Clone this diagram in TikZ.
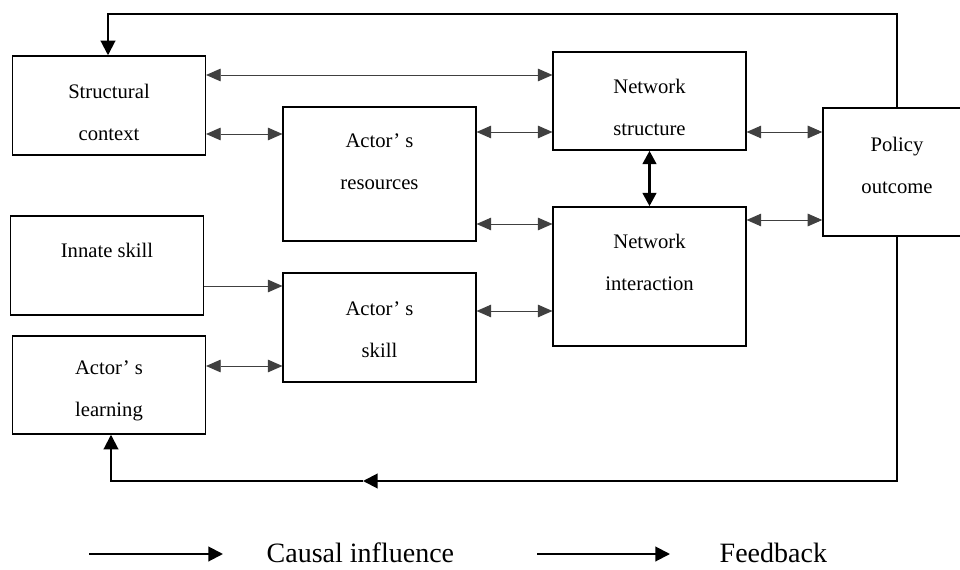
\documentclass[tikz,border=0pt]{standalone}
\usepackage{fontspec}
\setmainfont{Liberation Serif}
\usepackage{tikz}
\usetikzlibrary{arrows.meta,positioning}
\tikzset{
	x=0.75pt, y=-0.75pt,
	box/.style={draw, line width=1.1pt, inner sep=0pt, minimum width=144.5pt},
	txt/.style={align=center, font=\fontsize{15.5}{31.5}\selectfont},
	link/.style={<->, draw=black!75, line width=0.7pt,
		>={Triangle[length=11pt, width=9.5pt]}},
	oneway/.style={->, draw=black!75, line width=0.7pt,
		>={Triangle[length=11pt, width=9.5pt]}},
	strong/.style={<->, line width=2.3pt,
		>={Triangle[length=10pt, width=10pt]}},
	feedback/.style={->, line width=1.5pt,
		>={Triangle[length=11pt, width=11pt]}},
	legend/.style={font=\fontsize{21}{25}\selectfont, anchor=west},
}

\begin{document}
\begin{tikzpicture}
	\clip (0,0) rectangle (960,570);

	% boxes
	\node[box, minimum height=74.25pt] (sc) at (109,105.5) {};
	\node[box, minimum height=100.5pt] (res) at (379.5,174) {};
	\node[box, minimum height=73.5pt] (ns) at (649.5,101) {};
	\node[box, minimum height=104.25pt] (ni) at (649.5,276.5) {};
	\node[box, minimum width=111pt, minimum height=96pt] (po) at (897,172) {};
	\node[box, minimum height=74.25pt] (is) at (107,265.5) {};
	\node[box, minimum height=81.75pt] (sk) at (379.5,327.5) {};
	\node[box, minimum height=73.5pt] (le) at (109,385) {};

	% texts
	\node[txt] (sc-t) at (109,112) {Structural\\context};
	\node[txt] (res-t) at (379.5,162) {Actor' s\\resources};
	\node[txt] (ns-t) at (649.5,107) {Network\\structure};
	\node[txt] (ni-t) at (649.5,262) {Network\\interaction};
	\node[txt] (po-t) at (897,165) {Policy\\outcome};
	\node[txt] (is-t) at (107,250) {Innate skill};
	\node[txt] (sk-t) at (379.5,330) {Actor' s\\skill};
	\node[txt] (le-t) at (109,391) {Actor' s\\learning};

	% causal influence
	\draw[link] (sc.east |- 0,75) -- (ns.west |- 0,75);
	\draw[link] (sc.east |- 0,134) -- (res.west |- 0,134);
	\draw[link] (res.east |- 0,132) -- (ns.west |- 0,132);
	\draw[link] (res.east |- 0,224) -- (ni.west |- 0,224);
	\draw[link] (ns.east |- 0,132) -- (po.west |- 0,132);
	\draw[link] (ni.east |- 0,220) -- (po.west |- 0,220);
	\draw[strong] (ns.south) -- (ni.north);
	\draw[oneway] (is.east |- 0,286) -- (sk.west |- 0,286);
	\draw[link] (sk.east |- 0,311) -- (ni.west |- 0,311);
	\draw[link] (le.east |- 0,366) -- (sk.west |- 0,366);

	% feedback loops
	\draw[feedback] (po.north) |- (108,14) -- (sc.north -| 108,0);
	\coordinate (turn) at (363,481);
	\draw[feedback] (po.south) |- (turn);
	\draw[feedback] (turn) -| (le.south -| 111,0);

	% legend
	\coordinate (l1) at (89,554);
	\coordinate (l2) at (537,554);
	\draw[feedback] (l1) -- ++(134,0);
	\node[legend] (l1-t) at (262,553) {Causal influence};
	\draw[feedback] (l2) -- ++(133,0);
	\node[legend] (l2-t) at (715,553) {Feedback};
\end{tikzpicture}
\end{document}
